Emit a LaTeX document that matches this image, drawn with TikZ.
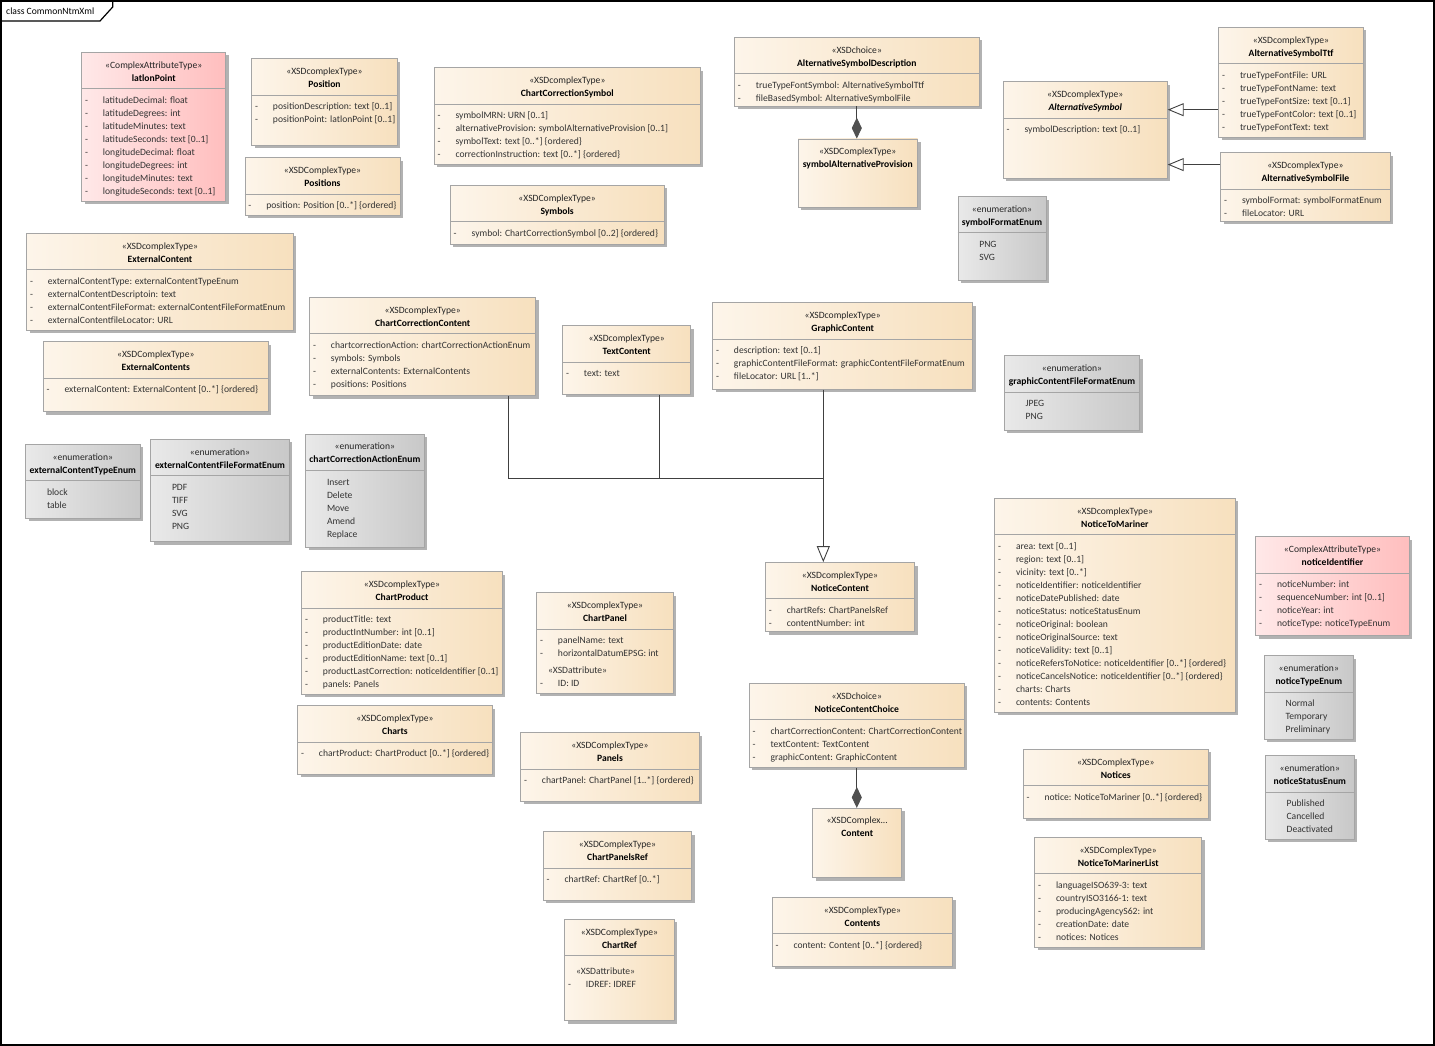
\documentclass[tikz,border=0pt]{standalone}
\usepackage{fontspec}
\setmainfont{Carlito}
\usetikzlibrary{arrows.meta,calc,fit,shadows}

\definecolor{cplxL}{RGB}{253,245,234}
\definecolor{cplxR}{RGB}{247,224,190}
\definecolor{pinkL}{RGB}{255,232,232}
\definecolor{pinkR}{RGB}{255,190,190}
\definecolor{enumL}{RGB}{233,233,233}
\definecolor{enumR}{RGB}{200,200,200}
\definecolor{edge}{RGB}{165,165,165}
\definecolor{boxshadow}{RGB}{178,178,178}
\definecolor{linkgray}{RGB}{64,64,64}
\definecolor{diagray}{RGB}{80,80,80}

% class box: look, name, top left, bottom right, stereotype, title, attributes
\newcommand{\umlclass}[8][-]{%
  \node[#2, fit={#4 #5}] (#3) {};
  \node[stereo] (#3-st) at ($(#3.north)+(0,16.3)$) {«#6»};
  \node[clsname] (#3-nm) at ($(#3.north)+(0,29.3)$) {#7};
  \coordinate (#3-d) at ($(#3.north west)+(0,36.7)$);
  \draw[divider] (#3-d) -- (#3-d -| #3.east);
  \def\clsitems{#8}%
  \ifx\clsitems\empty\else
    \foreach \a [count=\i] in {#8} {
      \node[attrline] (#3-a\i) at ($(#3-d)+(3.5,{1.8+13*\i})$) {\makebox[18pt][l]{#1}\a};
    }
  \fi
}
% box with header only
\newcommand{\umlhead}[6]{%
  \node[#1, fit={#3 #4}] (#2) {};
  \node[stereo] (#2-st) at ($(#2.north)+(0,15.5)$) {#5};
  \node[clsname] (#2-nm) at ($(#2.north)+(0,28.5)$) {#6};
}
% XSDattribute section: class, row, attribute
\newcommand{\xsdattr}[3]{%
  \node[attrline] (#1-xa) at ($(#1-d)+(11.5,{5.8+13*#2})$) {«XSDattribute»};
  \node[attrline] (#1-xb) at ($(#1-d)+(3.5,{18.8+13*#2})$) {\makebox[18pt][l]{-}#3};
}

\begin{document}
\begin{tikzpicture}[
    x=1pt, y=-1pt,
    % class boxes
    box/.style={rectangle, draw=edge, line width=0.8pt, inner sep=0pt,
                drop shadow={shadow xshift=3pt, shadow yshift=-3pt, fill=boxshadow, opacity=1}},
    cplx/.style={box, left color=cplxL, right color=cplxR},
    attrtype/.style={box, left color=pinkL, right color=pinkR},
    enum/.style={box, left color=enumL, right color=enumR},
    divider/.style={draw=edge, line width=0.8pt},
    % texts
    stereo/.style={anchor=base, inner sep=0pt, font=\fontsize{9.6}{13}\selectfont, text=black!85},
    clsname/.style={stereo, font=\fontsize{9.6}{13}\selectfont\bfseries, text=black},
    attrline/.style={anchor=base west, inner sep=0pt, font=\fontsize{9.6}{13}\selectfont, text=black!80},
    framelabel/.style={anchor=west, inner sep=0pt, font=\fontsize{9.6}{13}\selectfont, text=black},
    % connectors
    link/.style={draw=linkgray, line width=0.9pt},
    gen/.style={link, -{Triangle[open, fill=white, length=16pt, width=13pt]}},
    compo/.style={link, -{Diamond[length=21pt, width=10pt, color=diagray]}},
    diagframe/.style={draw=black, line width=1.2pt}
]
\useasboundingbox (0,0) rectangle (1435,1046);

% Diagram frame
\draw[diagframe] (1,1) rectangle (1434,1045);
\draw[diagframe] (1,21) -- (100,21) -- (112.7,7) -- (112.7,1);
\node[framelabel] (diagname) at (6,11.5) {class CommonNtmXml};

% Positions and symbols
\umlclass{attrtype}{ll}{(81.7,52.3)}{(225.7,201)}{ComplexAttributeType}{latlonPoint}
  {latitudeDecimal: float, latitudeDegrees: int, latitudeMinutes: text, latitudeSeconds: text [0..1],
   longitudeDecimal: float, longitudeDegrees: int, longitudeMinutes: text, longitudeSeconds: text [0..1]}
\umlclass{cplx}{pos}{(251.7,58.7)}{(397.3,145.3)}{XSDcomplexType}{Position}
  {positionDescription: text [0..1], positionPoint: latlonPoint [0..1]}
\umlclass{cplx}{poss}{(245,157.7)}{(400,215)}{XSDComplexType}{Positions}
  {position: Position [0..*] \{ordered\}}
\umlclass{cplx}{ccs}{(434.3,67.7)}{(700.4,164.3)}{XSDcomplexType}{ChartCorrectionSymbol}
  {symbolMRN: URN [0..1], alternativeProvision: symbolAlternativeProvision [0..1],
   symbolText: text [0..*] \{ordered\}, correctionInstruction: text [0..*] \{ordered\}}
\umlclass{cplx}{sym}{(450.4,185.3)}{(663.9,244)}{XSDComplexType}{Symbols}
  {symbol: ChartCorrectionSymbol [0..2] \{ordered\}}
\umlclass{cplx}{asd}{(734.6,37.3)}{(979,106)}{XSDchoice}{AlternativeSymbolDescription}
  {trueTypeFontSymbol: AlternativeSymbolTtf, fileBasedSymbol: AlternativeSymbolFile}
\umlhead{cplx}{sap}{(798,139)}{(917.5,207)}{«XSDComplexType»}{symbolAlternativeProvision}
\umlclass{cplx}{as}{(1003.3,81.7)}{(1167.3,178.3)}{XSDcomplexType}{\itshape AlternativeSymbol}
  {symbolDescription: text [0..1]}
\umlclass{cplx}{ttf}{(1218.7,27.3)}{(1363.3,137.3)}{XSDcomplexType}{AlternativeSymbolTtf}
  {trueTypeFontFile: URL, trueTypeFontName: text, trueTypeFontSize: text [0..1],
   trueTypeFontColor: text [0..1], trueTypeFontText: text}
\umlclass{cplx}{asf}{(1220.7,152.7)}{(1390,221.3)}{XSDcomplexType}{AlternativeSymbolFile}
  {symbolFormat: symbolFormatEnum, fileLocator: URL}
\umlclass[]{enum}{sfe}{(958,196.5)}{(1046,280)}{enumeration}{symbolFormatEnum}
  {PNG, SVG}

% External contents
\umlclass{cplx}{ec}{(26.7,233.3)}{(293.3,330)}{XSDcomplexType}{ExternalContent}
  {externalContentType: externalContentTypeEnum, externalContentDescriptoin: text,
   externalContentFileFormat: externalContentFileFormatEnum, externalContentfileLocator: URL}
\umlclass{cplx}{ecs}{(43.3,341.7)}{(268.3,411.7)}{XSDComplexType}{ExternalContents}
  {externalContent: ExternalContent [0..*] \{ordered\}}
\umlclass[]{enum}{ecte}{(25.7,444.3)}{(140,518.3)}{enumeration}{externalContentTypeEnum}
  {block, table}
\umlclass[]{enum}{ecffe}{(150.7,439.3)}{(289.3,541.7)}{enumeration}{externalContentFileFormatEnum}
  {PDF, TIFF, SVG, PNG}
\umlclass[]{enum}{ccae}{(305.7,434)}{(424,547.3)}{enumeration}{chartCorrectionActionEnum}
  {Insert, Delete, Move, Amend, Replace}

% Notice contents
\umlclass{cplx}{ccc}{(309.7,297.3)}{(535.7,395.5)}{XSDcomplexType}{ChartCorrectionContent}
  {chartcorrectionAction: chartCorrectionActionEnum, symbols: Symbols,
   externalContents: ExternalContents, positions: Positions}
\umlclass{cplx}{tc}{(562.7,325.7)}{(690.7,394.3)}{XSDcomplexType}{TextContent}
  {text: text}
\umlclass{cplx}{gc}{(712.7,302.7)}{(972.7,389.3)}{XSDcomplexType}{GraphicContent}
  {description: text [0..1], graphicContentFileFormat: graphicContentFileFormatEnum, fileLocator: URL [1..*]}
\umlclass[]{enum}{gcffe}{(1004.3,355.7)}{(1139.7,430.3)}{enumeration}{graphicContentFileFormatEnum}
  {JPEG, PNG}
\umlclass{cplx}{nc}{(765.5,562.5)}{(914.5,631.7)}{XSDcomplexType}{NoticeContent}
  {chartRefs: ChartPanelsRef, contentNumber: int}
\umlclass{cplx}{ncc}{(749.3,683.3)}{(964.3,767.3)}{XSDchoice}{NoticeContentChoice}
  {chartCorrectionContent: ChartCorrectionContent, textContent: TextContent, graphicContent: GraphicContent}
\umlhead{cplx}{ct}{(812.7,808.3)}{(901.7,877.7)}{«XSDComplex...}{Content}
\umlclass{cplx}{cts}{(772.3,897.3)}{(952.7,966)}{XSDComplexType}{Contents}
  {content: Content [0..*] \{ordered\}}

% Charts
\umlclass{cplx}{cp}{(301.7,571.7)}{(502.3,694.3)}{XSDcomplexType}{ChartProduct}
  {productTitle: text, productIntNumber: int [0..1], productEditionDate: date,
   productEditionName: text [0..1], productLastCorrection: noticeIdentifier [0..1], panels: Panels}
\umlclass{cplx}{charts}{(297.7,705.7)}{(492.3,774)}{XSDComplexType}{Charts}
  {chartProduct: ChartProduct [0..*] \{ordered\}}
\umlclass{cplx}{cpan}{(536.7,592.7)}{(673.3,693.3)}{XSDcomplexType}{ChartPanel}
  {panelName: text, horizontalDatumEPSG: int}
\xsdattr{cpan}{3}{ID: ID}
\umlclass{cplx}{panels}{(520.7,732.7)}{(699.3,801)}{XSDComplexType}{Panels}
  {chartPanel: ChartPanel [1..*] \{ordered\}}
\umlclass{cplx}{cpr}{(543.3,831.7)}{(691.7,900)}{XSDComplexType}{ChartPanelsRef}
  {chartRef: ChartRef [0..*]}
\umlclass{cplx}{cref}{(564.7,919.3)}{(674.3,1020.7)}{XSDComplexType}{ChartRef}{}
\xsdattr{cref}{1}{IDREF: IDREF}

% Notices
\umlclass{cplx}{ntm}{(994.7,498.3)}{(1235,712.3)}{XSDcomplexType}{NoticeToMariner}
  {area: text [0..1], region: text [0..1], vicinity: text [0..*], noticeIdentifier: noticeIdentifier,
   noticeDatePublished: date, noticeStatus: noticeStatusEnum, noticeOriginal: boolean,
   noticeOriginalSource: text, noticeValidity: text [0..1],
   noticeRefersToNotice: noticeIdentifier [0..*] \{ordered\},
   noticeCancelsNotice: noticeIdentifier [0..*] \{ordered\}, charts: Charts, contents: Contents}
\umlclass{attrtype}{nid}{(1255.7,536.7)}{(1409.3,635.7)}{ComplexAttributeType}{noticeIdentifier}
  {noticeNumber: int, sequenceNumber: int [0..1], noticeYear: int, noticeType: noticeTypeEnum}
\umlclass[]{enum}{nte}{(1264.3,655.7)}{(1353.3,739.3)}{enumeration}{noticeTypeEnum}
  {Normal, Temporary, Preliminary}
\umlclass{cplx}{notices}{(1023.3,749.3)}{(1208.3,818.3)}{XSDComplexType}{Notices}
  {notice: NoticeToMariner [0..*] \{ordered\}}
\umlclass[]{enum}{nse}{(1265.3,755.7)}{(1354.3,839.3)}{enumeration}{noticeStatusEnum}
  {Published, Cancelled, Deactivated}
\umlclass{cplx}{ntml}{(1034.7,837.3)}{(1201.7,947.3)}{XSDComplexType}{NoticeToMarinerList}
  {languageISO639-3: text, countryISO3166-1: text, producingAgencyS62: int, creationDate: date, notices: Notices}

% Compositions
\draw[compo] (asd.south) -- (asd.south |- sap.north);
\draw[compo] (ncc.south) -- (ncc.south |- ct.north);

% Generalizations
\coordinate (ttf-in) at ($(ttf.south west)+(0,-28)$);
\coordinate (asf-in) at ($(asf.north west)+(0,12.3)$);
\draw[gen] (ttf-in) -- (ttf-in -| as.east);
\draw[gen] (asf-in) -- (asf-in -| as.east);

\coordinate (cc-out) at ($(ccc.south)+(85.6,0)$);
\coordinate (tc-out) at ($(tc.south)+(32.6,0)$);
\coordinate (gc-out) at ($(gc.south)+(-19.4,0)$);
\coordinate (join) at ($(gc-out)+(0,89)$);
\draw[link] (cc-out) |- (join);
\draw[link] (tc-out) -- (tc-out |- join);
\draw[gen] (gc-out) -- (gc-out |- nc.north);

\end{tikzpicture}
\end{document}
